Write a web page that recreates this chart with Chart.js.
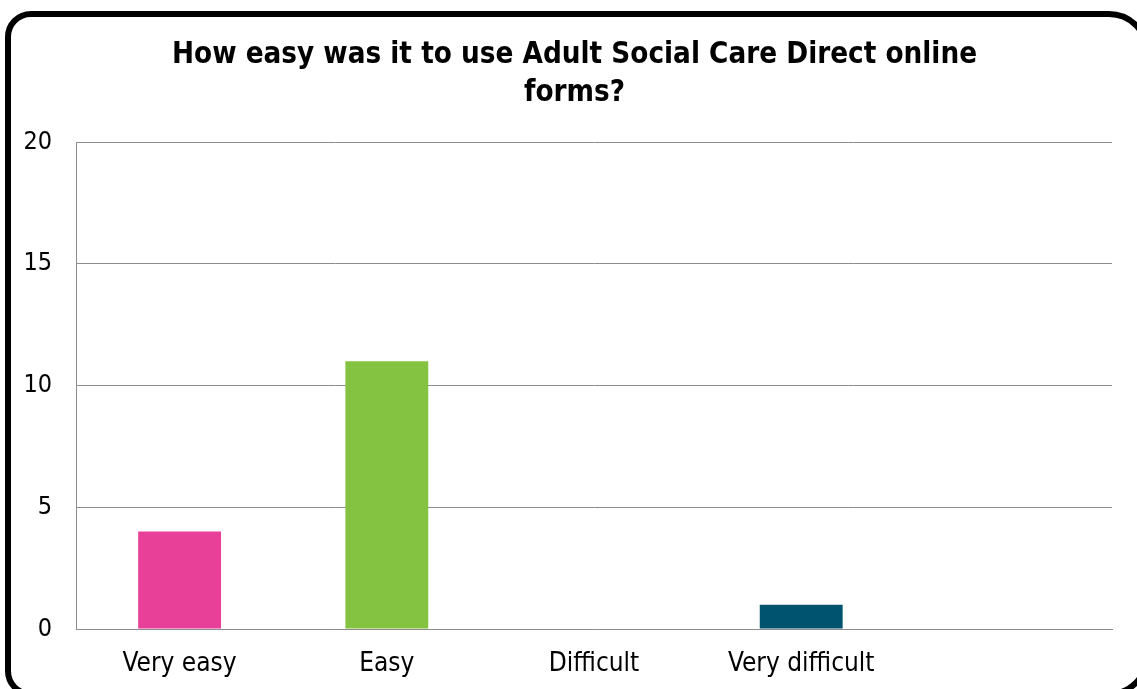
<!DOCTYPE html>
<html>
<head>
<meta charset="utf-8">
<script src="https://cdn.jsdelivr.net/npm/chart.js@4.4.1/dist/chart.umd.min.js"></script>
<style>
  html, body { margin: 0; padding: 0; background: #fff; overflow: hidden; }
  #box { position: relative; width: 1137px; height: 689px; }
</style>
</head>
<body>
<div id="box"><canvas id="grafico"></canvas></div>
<script>
// dados do gráfico
const categorias = ["Very easy", "Easy", "Difficult", "Very difficult", ""];
const respostas = [4, 11, 0, 1, null];
const cores = ["#E84098", "#84C341", "#84C341", "#00536E", "#00536E"];
const tituloLinhas = ["How easy was it to use Adult Social Care Direct online", "forms?"];
const yMin = 0, yMax = 20, yPasso = 5;

const fonte = "'DejaVu Sans Condensed', 'DejaVu Sans', sans-serif";

// largura do rótulo mais largo do eixo y (para alinhar à direita em x=52)
const medidor = document.createElement("canvas").getContext("2d");
medidor.font = "25px " + fonte;
const larguraRotulo = medidor.measureText(String(yMax)).width;

// moldura arredondada preta (passa da borda direita e de baixo)
const moldura = {
    id: "moldura",
    afterDraw(chart) {
        const c = chart.ctx;
        c.save();
        c.lineWidth = 6;
        c.strokeStyle = "#000";
        c.beginPath();
        c.roundRect(8, 14, 1139, 680, [23, 38, 38, 23]);
        c.stroke();
        c.restore();
    }
};

const ctx = document.getElementById("grafico").getContext("2d");
new Chart(ctx, {
    type: "bar",
    data: {
        labels: categorias,
        datasets: [{
            data: respostas,
            backgroundColor: cores,
            borderWidth: 0,
            categoryPercentage: 1,
            barPercentage: 0.4
        }]
    },
    options: {
        responsive: true,
        maintainAspectRatio: false,
        animation: false,
        layout: { padding: { left: 37, right: 25, top: 0, bottom: 0 } },
        plugins: {
            legend: { display: false },
            tooltip: { enabled: false },
            title: {
                display: true,
                text: tituloLinhas,
                color: "#000",
                font: { family: fonte, size: 29.3, weight: "bold", lineHeight: 1.28 },
                padding: { top: 37, bottom: 30 }
            }
        },
        scales: {
            x: {
                grid: { display: false, drawTicks: false },
                border: { display: true, color: "#8c8c8c", width: 1 },
                ticks: { color: "#000", font: { family: fonte, size: 26 }, padding: 20, maxRotation: 0 },
                afterFit: s => { s.height = 60; }
            },
            y: {
                min: yMin,
                max: yMax,
                ticks: {
                    stepSize: yPasso, color: "#000", font: { family: fonte, size: 25 },
                    mirror: true, crossAlign: "far", padding: -24 - larguraRotulo
                },
                grid: { color: "#8c8c8c", lineWidth: 1, drawTicks: false },
                border: { display: true, color: "#8c8c8c", width: 1 },
                afterFit: s => { s.width = 39; }
            }
        }
    },
    plugins: [moldura]
});
</script>
</body>
</html>
